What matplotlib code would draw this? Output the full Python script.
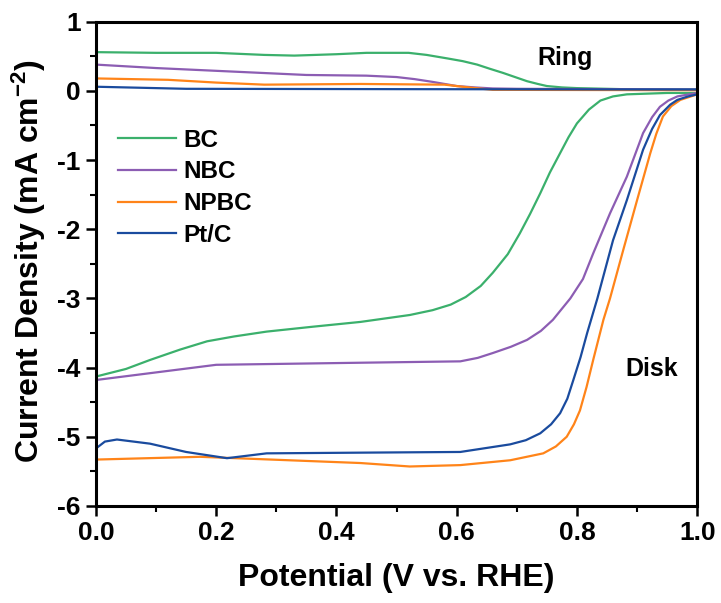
import matplotlib.pyplot as plt
import numpy as np

plt.rcParams['font.family'] = ['Liberation Sans', 'DejaVu Sans']
plt.rcParams['font.weight'] = 'bold'
plt.rcParams['mathtext.fontset'] = 'custom'
plt.rcParams['mathtext.rm'] = 'Liberation Sans:bold'
plt.rcParams['mathtext.bf'] = 'Liberation Sans:bold'
plt.rcParams['mathtext.it'] = 'Liberation Sans:bold'
plt.rcParams['mathtext.default'] = 'rm'

# ring currents (upper curves)
ring_bc_x = [0.0, 0.1, 0.2, 0.28, 0.33, 0.4, 0.45, 0.52, 0.55, 0.584, 0.61, 0.634, 0.655, 0.677, 0.697, 0.717, 0.735, 0.75, 0.775, 0.80, 0.9, 1.0]
ring_bc_y = [0.56, 0.55, 0.55, 0.52, 0.51, 0.53, 0.55, 0.55, 0.52, 0.47, 0.43, 0.38, 0.32, 0.26, 0.20, 0.14, 0.10, 0.07, 0.05, 0.04, 0.02, 0.02]
ring_nbc_x = [0.0, 0.1, 0.2, 0.3, 0.35, 0.45, 0.5, 0.53, 0.56, 0.6, 0.63, 0.66, 0.7, 1.0]
ring_nbc_y = [0.38, 0.33, 0.29, 0.25, 0.23, 0.22, 0.20, 0.17, 0.13, 0.07, 0.05, 0.035, 0.03, 0.02]
ring_npbc_x = [0.0, 0.06, 0.12, 0.2, 0.28, 0.44, 0.58, 0.62, 0.66, 1.0]
ring_npbc_y = [0.18, 0.17, 0.16, 0.12, 0.09, 0.10, 0.09, 0.05, 0.015, 0.01]
ring_ptc_x = [0.0, 0.05, 0.15, 0.5, 1.0]
ring_ptc_y = [0.06, 0.05, 0.03, 0.025, 0.02]

# disk currents (lower curves)
disk_bc_x = [0.0, 0.05, 0.09, 0.14, 0.185, 0.23, 0.284, 0.36, 0.44, 0.522, 0.56, 0.59, 0.615, 0.64, 0.66, 0.685,
             0.705, 0.722, 0.739, 0.755, 0.772, 0.786, 0.80, 0.82, 0.839, 0.86, 0.883, 0.95, 1.0]
disk_bc_y = [-4.13, -4.02, -3.89, -3.74, -3.62, -3.55, -3.48, -3.41, -3.34, -3.24, -3.17, -3.09, -2.98, -2.82, -2.63, -2.36,
             -2.06, -1.78, -1.48, -1.18, -0.90, -0.67, -0.47, -0.27, -0.14, -0.08, -0.05, -0.03, -0.03]
disk_nbc_x = [0.0, 0.1, 0.2, 0.44, 0.606, 0.635, 0.66, 0.69, 0.717, 0.74, 0.76, 0.789, 0.81, 0.827, 0.855, 0.883,
              0.91, 0.925, 0.938, 0.952, 0.967, 1.0]
disk_nbc_y = [-4.18, -4.07, -3.96, -3.93, -3.91, -3.86, -3.79, -3.70, -3.60, -3.47, -3.31, -3.0, -2.72, -2.35, -1.77, -1.24,
              -0.61, -0.38, -0.23, -0.14, -0.08, -0.03]
disk_npbc_x = [0.0, 0.173, 0.44, 0.522, 0.606, 0.689, 0.744, 0.765, 0.783, 0.795, 0.805, 0.816, 0.827, 0.844, 0.855,
               0.877, 0.90, 0.922, 0.932, 0.943, 0.957, 0.972, 1.0]
disk_npbc_y = [-5.33, -5.29, -5.38, -5.43, -5.41, -5.34, -5.24, -5.14, -5.0, -4.82, -4.62, -4.28, -3.89, -3.31, -3.0,
               -2.30, -1.58, -0.90, -0.62, -0.37, -0.22, -0.13, -0.05]
disk_ptc_x = [0.0, 0.015, 0.035, 0.09, 0.15, 0.218, 0.284, 0.44, 0.606, 0.689, 0.715, 0.739, 0.757, 0.772, 0.784, 0.794,
              0.806, 0.817, 0.834, 0.86, 0.883, 0.91, 0.925, 0.938, 0.955, 0.967, 0.985, 1.0]
disk_ptc_y = [-5.17, -5.07, -5.04, -5.10, -5.22, -5.31, -5.24, -5.23, -5.22, -5.11, -5.05, -4.95, -4.82, -4.66, -4.45, -4.18,
              -3.85, -3.50, -3.0, -2.16, -1.58, -0.85, -0.55, -0.35, -0.20, -0.13, -0.08, -0.05]

labels = ['BC', 'NBC', 'NPBC', 'Pt/C']
colors = ['#3bb06c', '#8c5db3', '#ff8419', '#1a4b9e']

fig = plt.figure(figsize=(7.21, 6.03), dpi=100)
ax = fig.add_axes([0.133, 0.161, 0.834, 0.803])

ring = [(ring_bc_x, ring_bc_y), (ring_nbc_x, ring_nbc_y), (ring_npbc_x, ring_npbc_y), (ring_ptc_x, ring_ptc_y)]
disk = [(disk_bc_x, disk_bc_y), (disk_nbc_x, disk_nbc_y), (disk_npbc_x, disk_npbc_y), (disk_ptc_x, disk_ptc_y)]

for (rx, ry), (dx, dy), c, lab in zip(ring, disk, colors, labels):
    ax.plot(rx, ry, color=c, lw=1.6)
    ax.plot(dx, dy, color=c, lw=1.6, label=lab)

ax.set_xlim(0, 1.0)
ax.set_ylim(-6, 1)
ax.set_xticks(np.arange(0, 1.01, 0.2))
ax.set_xticks(np.arange(0.1, 1.0, 0.2), minor=True)
ax.set_yticks(np.arange(-6, 1.1, 1))
ax.set_yticks(np.arange(-5.5, 1.0, 1), minor=True)
ax.set_xticklabels(['0.0', '0.2', '0.4', '0.6', '0.8', '1.0'])
ax.set_yticklabels(['-6', '-5', '-4', '-3', '-2', '-1', '0', '1'])
ax.tick_params(which='major', direction='out', length=7, width=1.8, labelsize=19, pad=4)
ax.tick_params(which='minor', direction='out', length=4, width=1.5)
for s in ax.spines.values():
    s.set_linewidth(2.2)

ax.set_xlabel('Potential (V vs. RHE)', fontsize=23, fontweight='bold', labelpad=13)
ax.set_ylabel('Current Density (mA cm$^{-2}$)', fontsize=23, fontweight='bold')
ax.yaxis.set_label_coords(-0.08, 0.505)

ax.text(0.78, 0.48, 'Ring', fontsize=18, fontweight='bold', ha='center', va='center')
ax.text(0.925, -4.02, 'Disk', fontsize=18, fontweight='bold', ha='center', va='center')

ax.legend(loc='upper left', bbox_to_anchor=(0.037, 0.779), frameon=False, fontsize=17.5,
          handlelength=2.4, handletextpad=0.3, labelspacing=0.36, borderpad=0, borderaxespad=0)

plt.savefig('out.png', dpi=100)
